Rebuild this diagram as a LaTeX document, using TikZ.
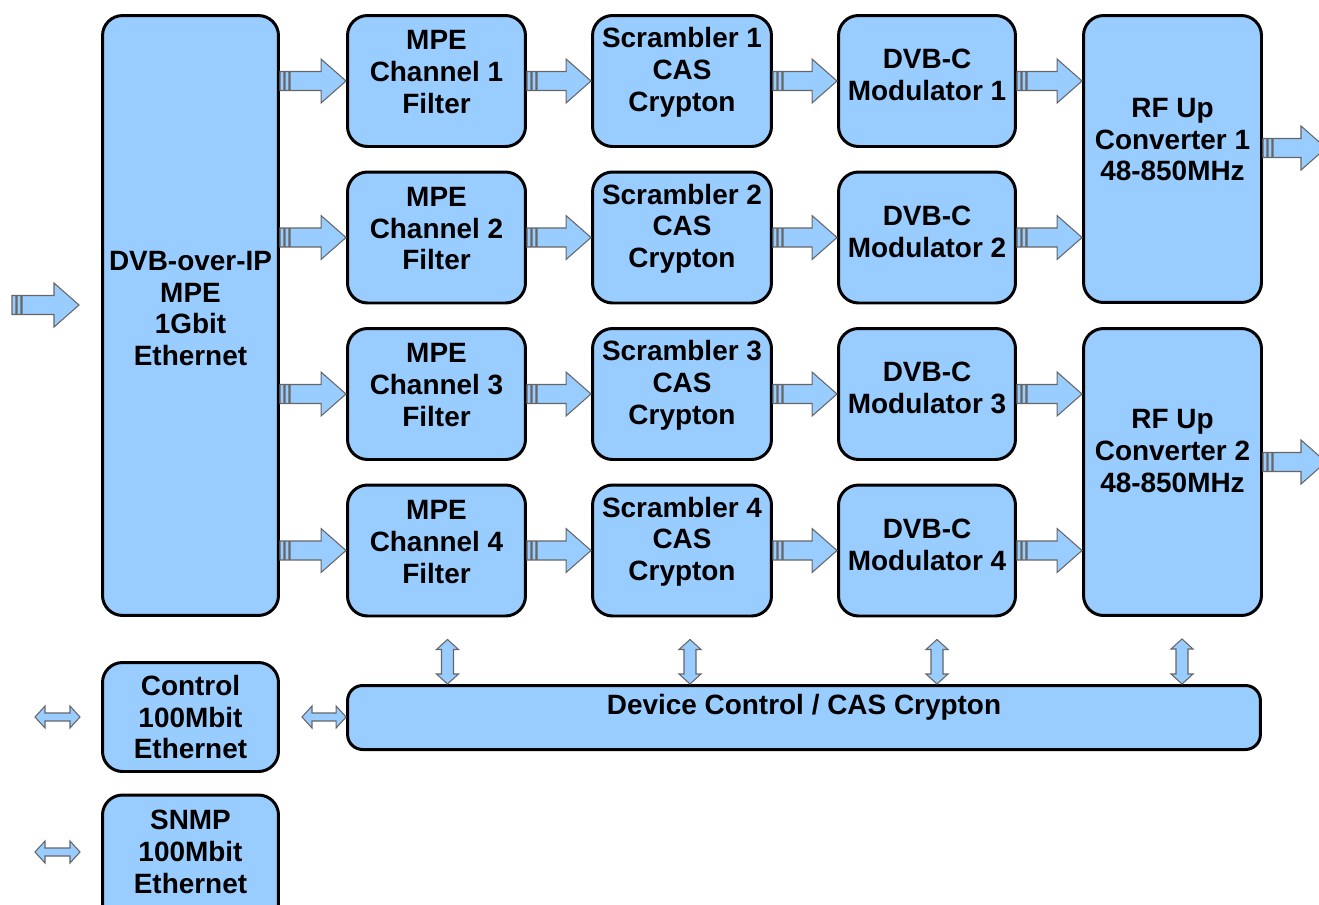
\documentclass[tikz,border=0pt]{standalone}
\usepackage{fontspec}
\setmainfont{Liberation Sans}
\usetikzlibrary{calc}
\definecolor{boxblue}{HTML}{99CCFF}
\newcommand{\flow}[2]{%
  \draw[arw] let \p1=(#1), \p2=(#2) in
    ($(\x1,\y1)+(0,-9.5)$) rectangle ($(\x1,\y1)+(4,9.5)$)
    ($(\x1,\y1)+(5,-9.5)$) rectangle ($(\x1,\y1)+(9,9.5)$)
    ($(\x1,\y1)+(10,-9.5)$) -- ($(\x2,\y1)+(-25,-9.5)$) -- ($(\x2,\y1)+(-25,-22)$) -- (\x2,\y1)
    -- ($(\x2,\y1)+(-25,22)$) -- ($(\x2,\y1)+(-25,9.5)$) -- ($(\x1,\y1)+(10,9.5)$) -- cycle;}
\newcommand{\dflow}[2]{%
  \draw[arw] let \p1=(#1), \p2=(#2) in
    (\x1,\y1) -- ($(\x1,\y1)+(10,-11)$) -- ($(\x1,\y1)+(10,-4)$) -- ($(\x2,\y1)+(-10,-4)$)
    -- ($(\x2,\y1)+(-10,-11)$) -- (\x2,\y1) -- ($(\x2,\y1)+(-10,11)$) -- ($(\x2,\y1)+(-10,4)$)
    -- ($(\x1,\y1)+(10,4)$) -- ($(\x1,\y1)+(10,11)$) -- cycle;}
\newcommand{\vflow}[2]{%
  \draw[arw] let \p1=(#1), \p2=(#2) in
    (\x1,\y1) -- ($(\x1,\y1)+(-11,10)$) -- ($(\x1,\y1)+(-6,10)$) -- ($(\x1,\y2)+(-6,-10)$)
    -- ($(\x1,\y2)+(-11,-10)$) -- (\x1,\y2) -- ($(\x1,\y2)+(11,-10)$) -- ($(\x1,\y2)+(6,-10)$)
    -- ($(\x1,\y1)+(6,10)$) -- ($(\x1,\y1)+(11,10)$) -- cycle;}

\begin{document}
\begin{tikzpicture}[x=0.02cm,y=-0.02cm,
  blk/.style={draw,line width=1.7pt,fill=boxblue,rounded corners=0.4cm,inner sep=0pt,
    minimum width=3.56cm,minimum height=2.62cm},
  txt/.style={font=\bfseries\fontsize{15.9}{18.1}\selectfont,align=center,inner sep=0pt},
  arw/.style={draw=black!60,line width=0.6pt,fill=boxblue}]
  \useasboundingbox (0,0) rectangle (1319,904);
  \clip (0,0) rectangle (1319,904);
  \node[blk,minimum width=3.52cm,minimum height=12cm,
    label={[txt,yshift=4pt]center:{DVB-over-IP\\MPE\\1Gbit\\Ethernet}}] (ip) at (190.5,315.5) {};
  \node[blk,label={[txt,yshift=5pt]center:{MPE\\Channel 1\\Filter}}] (mpe1) at (436.5,81) {};
  \node[blk,label={[txt,yshift=5pt]center:{MPE\\Channel 2\\Filter}}] (mpe2) at (436.5,237.5) {};
  \node[blk,label={[txt,yshift=5pt]center:{MPE\\Channel 3\\Filter}}] (mpe3) at (436.5,394) {};
  \node[blk,label={[txt,yshift=5pt]center:{MPE\\Channel 4\\Filter}}] (mpe4) at (436.5,550.5) {};
  \node[blk,minimum width=3.58cm,label={[txt,yshift=5pt]center:{Scrambler 1\\CAS\\Crypton}}] (scr1) at (682,81) {};
  \node[blk,minimum width=3.58cm,label={[txt,yshift=5pt]center:{Scrambler 2\\CAS\\Crypton}}] (scr2) at (682,237.5) {};
  \node[blk,minimum width=3.58cm,label={[txt,yshift=5pt]center:{Scrambler 3\\CAS\\Crypton}}] (scr3) at (682,394) {};
  \node[blk,minimum width=3.58cm,label={[txt,yshift=5pt]center:{Scrambler 4\\CAS\\Crypton}}] (scr4) at (682,550.5) {};
  \node[blk,minimum width=3.54cm,label={[txt,yshift=3.4pt]center:{DVB-C\\Modulator 1}}] (mod1) at (927,81) {};
  \node[blk,minimum width=3.54cm,label={[txt,yshift=3.4pt]center:{DVB-C\\Modulator 2}}] (mod2) at (927,237.5) {};
  \node[blk,minimum width=3.54cm,label={[txt,yshift=3.4pt]center:{DVB-C\\Modulator 3}}] (mod3) at (927,394) {};
  \node[blk,minimum width=3.54cm,label={[txt,yshift=3.4pt]center:{DVB-C\\Modulator 4}}] (mod4) at (927,550.5) {};
  \node[blk,minimum height=5.74cm,
    label={[txt,yshift=11pt]center:{RF Up\\Converter 1\\48-850MHz}}] (rf1) at (1172.5,159) {};
  \node[blk,minimum height=5.74cm,
    label={[txt,yshift=12pt]center:{RF Up\\Converter 2\\48-850MHz}}] (rf2) at (1172.5,472) {};
  \node[blk,rounded corners=0.3cm,minimum width=18.26cm,minimum height=1.28cm,
    label={[txt,yshift=5.7pt]center:{Device Control / CAS Crypton}}] (dev) at (804,717.5) {};
  \node[blk,minimum width=3.52cm,minimum height=2.18cm,
    label={[txt]center:{Control\\100Mbit\\Ethernet}}] (ctrl) at (190.5,717) {};
  \node[blk,minimum width=3.52cm,minimum height=2.6cm,
    label={[txt,yshift=4.5pt]center:{SNMP\\100Mbit\\Ethernet}}] (snmp) at (190.5,860) {};
  \coordinate (inA) at (12,305);
  \coordinate (inB) at (79,305);
  \coordinate (out1) at (1326,148);
  \coordinate (out2) at (1326,462);
  \coordinate (c1) at (35,717);
  \coordinate (c2) at (80,717);
  \coordinate (s1) at (35,852);
  \coordinate (s2) at (80,852);
  \flow{inA}{inB}
  \flow{ip.east |- mpe1.west}{mpe1.west}
  \flow{ip.east |- mpe2.west}{mpe2.west}
  \flow{ip.east |- mpe3.west}{mpe3.west}
  \flow{ip.east |- mpe4.west}{mpe4.west}
  \flow{mpe1.east}{scr1.west}
  \flow{mpe2.east}{scr2.west}
  \flow{mpe3.east}{scr3.west}
  \flow{mpe4.east}{scr4.west}
  \flow{scr1.east}{mod1.west}
  \flow{scr2.east}{mod2.west}
  \flow{scr3.east}{mod3.west}
  \flow{scr4.east}{mod4.west}
  \flow{mod1.east}{rf1.west}
  \flow{mod2.east}{rf1.west}
  \flow{mod3.east}{rf2.west}
  \flow{mod4.east}{rf2.west}
  \flow{rf1.east |- out1}{out1}
  \flow{rf2.east |- out2}{out2}
  \vflow{$(mpe4.south)+(11,22)$}{dev.north}
  \vflow{$(scr4.south)+(8,22)$}{dev.north}
  \vflow{$(mod4.south)+(10,22)$}{dev.north}
  \vflow{$(rf2.south)+(9.5,22)$}{dev.north}
  \dflow{c1}{c2}
  \dflow{$(ctrl.east)+(22,0)$}{dev.west}
  \dflow{s1}{s2}
\end{tikzpicture}
\end{document}
